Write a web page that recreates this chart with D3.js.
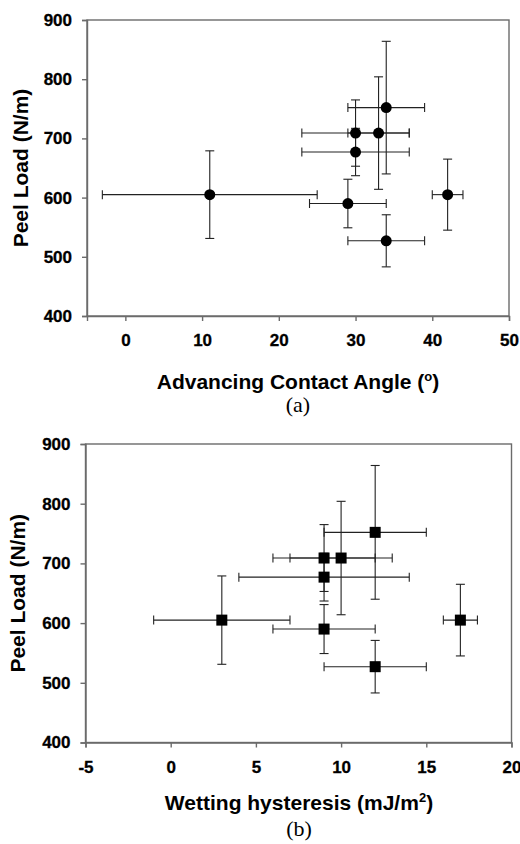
<meta charset="utf-8">
<head>
<style>
  body { margin: 0; background: #fff; }
  .tick text { font-family: "Liberation Sans", Arial, sans-serif; font-weight: bold; font-size: 17px; fill: #000; }
  .title { font-family: "Liberation Sans", Arial, sans-serif; font-weight: bold; font-size: 21px; fill: #000; }
  .caption { font-family: "Liberation Serif", "Times New Roman", serif; font-size: 22px; fill: #000; }
</style>
</head>
<body>
<div id="chartId"></div>
</body>
<script src="https://d3js.org/d3.v7.min.js"></script>
<script>

// data (same peel loads in both)
var peel = [605, 590, 527, 605, 709, 677, 709, 752];
var peelErr = [74, 41, 44, 60, 56, 40, 95, 112];

var angle = [11, 29, 34, 42, 30, 30, 33, 34];
var angleErr = [14, 5, 5, 2, 7, 7, 4, 5];

var hysteresis = [3, 9, 12, 17, 9, 9, 10, 12];
var hystErr = [4, 3, 3, 1, 3, 5, 3, 3];

var angleTicks = [0, 10, 20, 30, 40, 50];
var hystTicks = [-5, 0, 5, 10, 15, 20];
var peelTicks = [400, 500, 600, 700, 800, 900];

var width = 520, height = 844;

var svg = d3.select('#chartId').append('svg')
	.attr('width', width)
	.attr('height', height);

function drawPanel(opt) {
	var x = d3.scaleLinear().domain(opt.xDomain).range([opt.left, opt.right]);
	var y = d3.scaleLinear().domain([400, 900]).range([opt.bottom, opt.top]);

	var g = svg.append('g');

	// plot area frame
	g.append('rect')
		.attr('x', opt.left)
		.attr('y', opt.top)
		.attr('width', opt.right - opt.left)
		.attr('height', opt.bottom - opt.top)
		.attr('fill', 'none')
		.attr('stroke', '#6b6b6b')
		.attr('stroke-width', 1.4);

	var yAxis = g.append('g')
		.attr('transform', 'translate(' + opt.left + ',0)')
		.call(d3.axisLeft(y).tickValues(peelTicks).tickSize(5).tickPadding(10).tickFormat(function(d) { return String(d); }));

	var xAxis = g.append('g')
		.attr('transform', 'translate(0,' + opt.bottom + ')')
		.call(d3.axisBottom(x).tickValues(opt.xTicks).tickSize(5).tickPadding(13).tickFormat(function(d) { return String(d); }));

	[yAxis, xAxis].forEach(function(a) {
		a.select('.domain').attr('stroke', '#6b6b6b').attr('stroke-width', 1.4);
		a.selectAll('.tick line').attr('stroke', '#6b6b6b').attr('stroke-width', 1.4);
		a.selectAll('.tick text').attr('stroke', '#000').attr('stroke-width', 0.3);
	});

	var data = opt.xs.map(function(d, i) {
		return { x: d, xe: opt.xe[i], y: peel[i], ye: peelErr[i] };
	});

	var cap = 4.5;
	var bars = g.append('g')
		.attr('stroke', '#222')
		.attr('stroke-width', 1.1)
		.attr('fill', 'none');

	data.forEach(function(d) {
		// horizontal bar
		bars.append('line')
			.attr('x1', x(d.x - d.xe)).attr('x2', x(d.x + d.xe))
			.attr('y1', y(d.y)).attr('y2', y(d.y));
		bars.append('line')
			.attr('x1', x(d.x - d.xe)).attr('x2', x(d.x - d.xe))
			.attr('y1', y(d.y) - cap).attr('y2', y(d.y) + cap);
		bars.append('line')
			.attr('x1', x(d.x + d.xe)).attr('x2', x(d.x + d.xe))
			.attr('y1', y(d.y) - cap).attr('y2', y(d.y) + cap);
		// vertical bar
		bars.append('line')
			.attr('x1', x(d.x)).attr('x2', x(d.x))
			.attr('y1', y(d.y - d.ye)).attr('y2', y(d.y + d.ye));
		bars.append('line')
			.attr('x1', x(d.x) - cap).attr('x2', x(d.x) + cap)
			.attr('y1', y(d.y - d.ye)).attr('y2', y(d.y - d.ye));
		bars.append('line')
			.attr('x1', x(d.x) - cap).attr('x2', x(d.x) + cap)
			.attr('y1', y(d.y + d.ye)).attr('y2', y(d.y + d.ye));
	});

	if (opt.marker === 'circle') {
		g.selectAll('circle.pt')
			.data(data)
			.enter()
			.append('circle')
			.attr('class', 'pt')
			.attr('cx', function(d) { return x(d.x); })
			.attr('cy', function(d) { return y(d.y); })
			.attr('r', 5.5)
			.attr('fill', '#000');
	} else {
		var s = 11;
		g.selectAll('rect.pt')
			.data(data)
			.enter()
			.append('rect')
			.attr('class', 'pt')
			.attr('x', function(d) { return x(d.x) - s / 2; })
			.attr('y', function(d) { return y(d.y) - s / 2; })
			.attr('width', s)
			.attr('height', s)
			.attr('fill', '#000');
	}

	// y title
	g.append('text')
		.attr('class', 'title')
		.attr('transform', 'translate(' + opt.yTitleX + ',' + (opt.top + opt.bottom) / 2 + ') rotate(-90)')
		.attr('text-anchor', 'middle')
		.text('Peel Load (N/m)');

	// x title with superscript
	var xt = g.append('text')
		.attr('class', 'title')
		.attr('x', opt.titleCx)
		.attr('y', opt.xTitleY)
		.attr('text-anchor', 'middle');
	xt.append('tspan').text(opt.xTitle[0]);
	xt.append('tspan').attr('font-size', '13px').attr('dy', -8).text(opt.xTitle[1]);
	xt.append('tspan').attr('dy', 8).text(opt.xTitle[2]);

	g.append('text')
		.attr('class', 'caption')
		.attr('x', opt.titleCx)
		.attr('y', opt.captionY)
		.attr('text-anchor', 'middle')
		.text(opt.caption);
}

drawPanel({
	left: 87, right: 509, top: 20, bottom: 316,
	xDomain: [-5, 50], xTicks: angleTicks,
	xs: angle, xe: angleErr, marker: 'circle',
	yTitleX: 28, xTitleY: 389, captionY: 412, titleCx: 298,
	xTitle: ['Advancing Contact Angle (', 'o', ')'], caption: '(a)'
});

drawPanel({
	left: 85.5, right: 511.5, top: 444, bottom: 742.5,
	xDomain: [-5, 20], xTicks: hystTicks,
	xs: hysteresis, xe: hystErr, marker: 'square',
	yTitleX: 25, xTitleY: 810, captionY: 836, titleCx: 299,
	xTitle: ['Wetting hysteresis (mJ/m', '2', ')'], caption: '(b)'
});

</script>
